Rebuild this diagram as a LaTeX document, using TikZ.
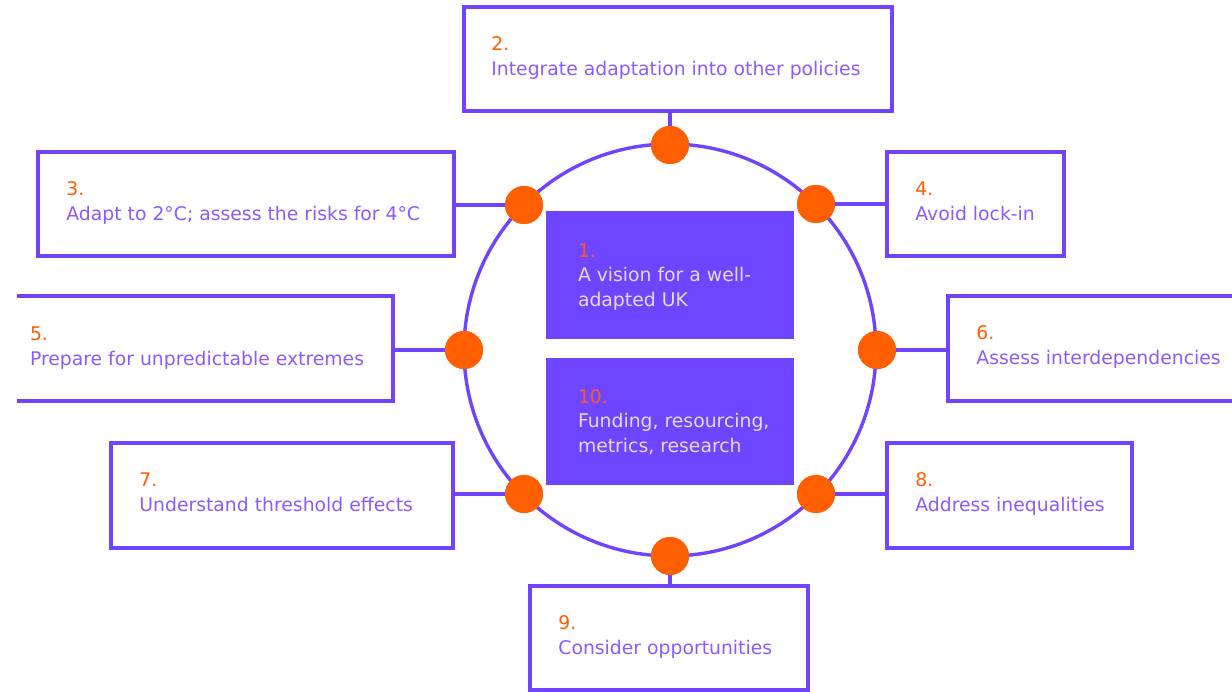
\documentclass[tikz,border=0pt]{standalone}
\usepackage{fontspec}
\setmainfont{DejaVu Sans}
\definecolor{vio}{RGB}{112,68,255}
\definecolor{corefill}{RGB}{110,70,255}
\definecolor{txtvio}{RGB}{138,92,255}
\definecolor{coretxt}{RGB}{228,218,255}
\definecolor{dotor}{RGB}{255,95,0}
\definecolor{corenum}{RGB}{255,88,40}
\begin{document}
\begin{tikzpicture}[x=1pt,y=-1pt,
  frame/.style={draw=vio, line width=3.6pt, rectangle, inner sep=0pt, fill=white},
  core/.style={fill=corefill, draw=none, rectangle, inner sep=0pt},
  knob/.style={circle, fill=dotor, minimum size=38pt, inner sep=0pt},
  link/.style={draw=vio, line width=3.4pt},
  num/.style={anchor=base west, inner sep=0pt, text=dotor, font=\fontsize{18.8}{22}\selectfont},
  lbl/.style={anchor=base west, inner sep=0pt, text=txtvio, font=\fontsize{18.8}{22}\selectfont},
  cnum/.style={num, text=corenum},
  clbl/.style={lbl, text=coretxt},
]
\useasboundingbox (0,0) rectangle (1232,692);
\clip (0,0) rectangle (1232,692);

% ring
\coordinate (hub) at (670,350);
\draw[link] (hub) circle[radius=206pt];

% knobs on the ring
\node[knob] (d2) at (670,145) {};
\node[knob] (d3) at (524,205) {};
\node[knob] (d4) at (816,204) {};
\node[knob] (d5) at (464,350) {};
\node[knob] (d6) at (877,350) {};
\node[knob] (d7) at (524,494) {};
\node[knob] (d8) at (816,494) {};
\node[knob] (d9) at (670,556) {};

% outer boxes
\node[frame, minimum width=428pt, minimum height=104pt] (b2) at (678,59) {};
\node[frame, minimum width=416pt, minimum height=104pt] (b3) at (246,204) {};
\node[frame, minimum width=177pt, minimum height=104pt] (b4) at (975.5,204) {};
\node[minimum width=376pt, minimum height=105pt, inner sep=0pt] (b5) at (205,348.5) {};
\draw[link, line width=3.6pt] (b5.north west) -- (b5.north east) -- (b5.south east) -- (b5.south west);
\node[frame, minimum width=310pt, minimum height=105pt] (b6) at (1103,348.5) {};
\node[frame, minimum width=342pt, minimum height=105pt] (b7) at (282,495.5) {};
\node[frame, minimum width=245pt, minimum height=105pt] (b8) at (1009.5,495.5) {};
\node[frame, minimum width=278pt, minimum height=104pt] (b9) at (669,638) {};

% central boxes
\node[core, minimum width=248pt, minimum height=128pt] (c1) at (670,275) {};
\node[core, minimum width=248pt, minimum height=127pt] (c10) at (670,421.5) {};

% connectors from boxes to knobs
\draw[link] (d2 |- b2.south) -- (d2.center);
\draw[link] (d3 -| b3.east) -- (d3.center);
\draw[link] (d4 -| b4.west) -- (d4.center);
\draw[link] (d5 -| b5.east) -- (d5.center);
\draw[link] (d6 -| b6.west) -- (d6.center);
\draw[link] (d7 -| b7.east) -- (d7.center);
\draw[link] (d8 -| b8.west) -- (d8.center);
\draw[link] (d9 |- b9.north) -- (d9.center);

% redraw knobs over the connectors
\foreach \k in {d2,d3,d4,d5,d6,d7,d8,d9}
  \fill[dotor] (\k.center) circle[radius=19pt];

% texts
\node[num] at ([shift={(29,45)}]b2.north west) {2.};
\node[lbl] at ([shift={(29,70)}]b2.north west) {Integrate adaptation into other policies};
\node[num] at ([shift={(30,45)}]b3.north west) {3.};
\node[lbl] at ([shift={(30,70)}]b3.north west) {Adapt to 2°C; assess the risks for 4°C};
\node[num] at ([shift={(30,45)}]b4.north west) {4.};
\node[lbl] at ([shift={(30,70)}]b4.north west) {Avoid lock-in};
\node[num] at ([shift={(13,45)}]b5.north west) {5.};
\node[lbl] at ([shift={(13,70)}]b5.north west) {Prepare for unpredictable extremes};
\node[num] at ([shift={(30,45)}]b6.north west) {6.};
\node[lbl] at ([shift={(30,70)}]b6.north west) {Assess interdependencies};
\node[num] at ([shift={(30,45)}]b7.north west) {7.};
\node[lbl] at ([shift={(30,70)}]b7.north west) {Understand threshold effects};
\node[num] at ([shift={(30,45)}]b8.north west) {8.};
\node[lbl] at ([shift={(30,70)}]b8.north west) {Address inequalities};
\node[num] at ([shift={(30,45)}]b9.north west) {9.};
\node[lbl] at ([shift={(30,70)}]b9.north west) {Consider opportunities};

\node[cnum] at ([shift={(32,47)}]c1.north west) {1.};
\node[clbl] at ([shift={(32,71)}]c1.north west) {A vision for a well-};
\node[clbl] at ([shift={(32,96)}]c1.north west) {adapted UK};
\node[cnum] at ([shift={(32,46)}]c10.north west) {10.};
\node[clbl] at ([shift={(32,70)}]c10.north west) {Funding, resourcing,};
\node[clbl] at ([shift={(32,95)}]c10.north west) {metrics, research};
\end{tikzpicture}
\end{document}
